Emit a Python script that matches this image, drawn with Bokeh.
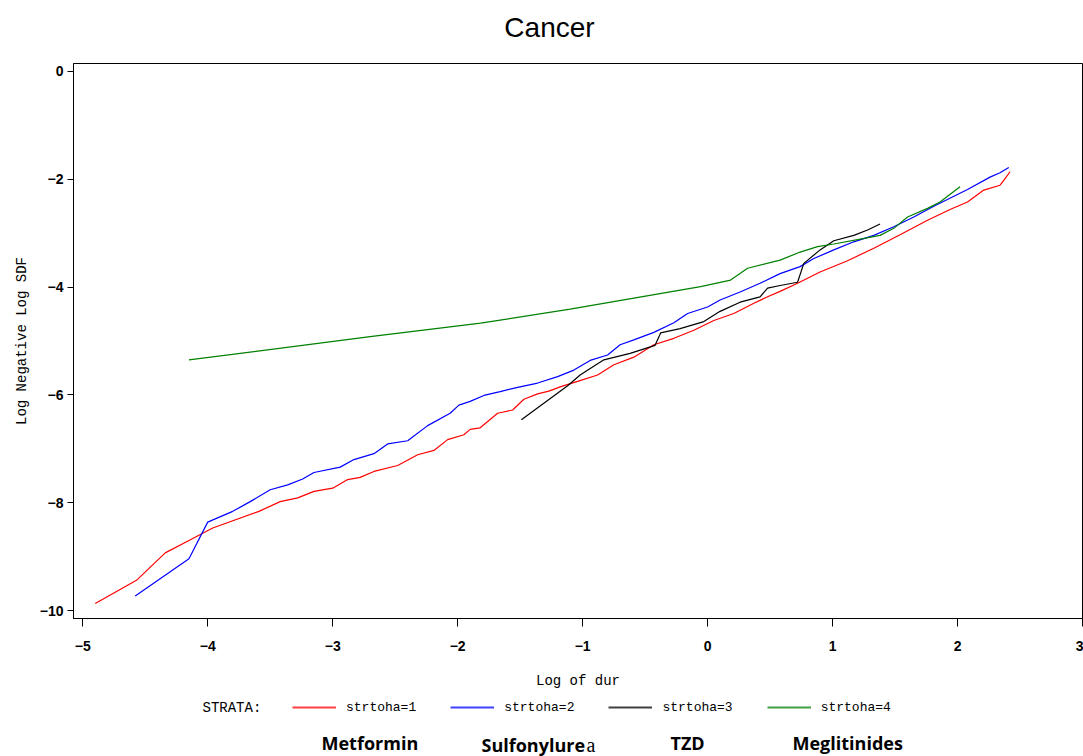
import numpy as np
from bokeh.plotting import figure
from bokeh.layouts import column
from bokeh.models import Label, Legend, LegendItem, FixedTicker, Range1d
from bokeh.embed import file_html
from bokeh.resources import INLINE

# ---------------- data ----------------
title_text = "Cancer"
x_label = "Log of dur"
y_label = "Log Negative Log SDF"
x_ticks = [-5, -4, -3, -2, -1, 0, 1, 2, 3]
y_ticks = [0, -2, -4, -6, -8, -10]
legend_title = "STRATA:"
strata_names = ["strtoha=1", "strtoha=2", "strtoha=3", "strtoha=4"]
drug_names = ["Metformin", "Sulfonylure", "TZD", "Meglitinides"]
drug_suffix = "a"

s1_x = [-4.90, -4.57, -4.34, -4.15, -3.96, -3.59, -3.42, -3.28, -3.15, -3.00, -2.88, -2.78,
        -2.67, -2.48, -2.32, -2.19, -2.08, -1.95, -1.90, -1.82, -1.68, -1.56, -1.47, -1.36,
        -1.27, -1.18, -1.04, -0.88, -0.75, -0.59, -0.43, -0.27, -0.11, 0.05, 0.21, 0.37,
        0.48, 0.58, 0.72, 0.90, 1.12, 1.33, 1.54, 1.76, 1.94, 2.08, 2.21, 2.34, 2.37, 2.42]
s1_y = [-9.87, -9.44, -8.93, -8.70, -8.47, -8.16, -7.98, -7.91, -7.79, -7.73, -7.57, -7.53,
        -7.42, -7.31, -7.11, -7.03, -6.83, -6.74, -6.64, -6.61, -6.34, -6.28, -6.08, -5.98,
        -5.93, -5.85, -5.75, -5.63, -5.44, -5.30, -5.07, -4.95, -4.80, -4.62, -4.49, -4.30,
        -4.18, -4.08, -3.93, -3.72, -3.51, -3.28, -3.03, -2.76, -2.56, -2.42, -2.20, -2.11,
        -2.02, -1.86]

s2_x = [-4.58, -4.15, -4.00, -3.80, -3.66, -3.50, -3.36, -3.24, -3.15, -2.94, -2.83, -2.67,
        -2.56, -2.40, -2.24, -2.06, -1.99, -1.90, -1.79, -1.66, -1.52, -1.36, -1.20, -1.07,
        -0.94, -0.80, -0.70, -0.59, -0.43, -0.27, -0.16, 0.00, 0.10, 0.26, 0.42, 0.58,
        0.74, 0.85, 1.01, 1.17, 1.33, 1.49, 1.65, 1.81, 2.08, 2.26, 2.34, 2.41]
s2_y = [-9.73, -9.04, -8.36, -8.16, -7.98, -7.76, -7.67, -7.56, -7.44, -7.34, -7.20, -7.09,
        -6.91, -6.85, -6.57, -6.34, -6.19, -6.12, -6.01, -5.94, -5.86, -5.78, -5.66, -5.54,
        -5.36, -5.26, -5.07, -4.98, -4.84, -4.66, -4.49, -4.37, -4.24, -4.09, -3.93, -3.75,
        -3.62, -3.47, -3.31, -3.16, -3.04, -2.88, -2.70, -2.50, -2.19, -1.96, -1.88, -1.78]

s3_x = [-1.49, -1.12, -1.02, -0.83, -0.62, -0.42, -0.376, -0.22, -0.03, 0.10, 0.26, 0.42,
        0.48, 0.58, 0.72, 0.77, 0.90, 1.01, 1.17, 1.28, 1.38]
s3_y = [-6.46, -5.83, -5.63, -5.35, -5.23, -5.08, -4.85, -4.77, -4.64, -4.45, -4.28, -4.18,
        -4.02, -3.97, -3.91, -3.56, -3.31, -3.14, -3.04, -2.94, -2.83]

s4_x = [-4.15, -2.70, -1.816, -1.10, -0.056, 0.184, 0.32, 0.58, 0.74, 0.88, 1.01, 1.20,
        1.38, 1.49, 1.60, 1.76, 1.86, 2.02]
s4_y = [-5.35, -4.92, -4.67, -4.41, -3.99, -3.87, -3.65, -3.50, -3.35, -3.25, -3.20, -3.12,
        -3.04, -2.91, -2.70, -2.54, -2.42, -2.14]

series_x = [s1_x, s2_x, s3_x, s4_x]
series_y = [s1_y, s2_y, s3_y, s4_y]
colors = ["#ff0000", "#0000ff", "#000000", "#008000"]

FRAME_L, FRAME_R = 73, 1082   # frame edges shared by the stacked figures (pixels)

# ---------------- title strip ----------------
t = figure(width=1083, height=63, output_backend="svg", toolbar_location=None,
           x_range=Range1d(FRAME_L, FRAME_R), y_range=Range1d(63, 0),
           x_axis_location=None, y_axis_location=None,
           min_border_left=0, min_border_right=0, min_border_top=0, min_border_bottom=0,
           background_fill_color="white", border_fill_color="white")
t.outline_line_color = None
t.xgrid.visible = False
t.ygrid.visible = False
t.add_layout(Label(x=549, y=27, text=title_text, text_align="center", text_baseline="middle",
                   text_font="Liberation Sans", text_font_size="28px", text_color="black"))

# ---------------- main figure ----------------
p = figure(width=1083, height=628, output_backend="svg", toolbar_location=None,
           x_range=Range1d(-5.074, 3.0), y_range=Range1d(-10.148, 0.148),
           min_border_left=FRAME_L, min_border_right=1083 - FRAME_R, min_border_top=0,
           min_border_bottom=72,
           background_fill_color="white", border_fill_color="white")
p.outline_line_color = "black"
p.outline_line_width = 1
p.xgrid.visible = False
p.ygrid.visible = False

for xs, ys, c in zip(series_x, series_y, colors):
    p.line(xs, ys, line_color=c, line_width=1.2)

p.xaxis.ticker = FixedTicker(ticks=x_ticks, minor_ticks=[])
p.yaxis.ticker = FixedTicker(ticks=y_ticks, minor_ticks=[])
for ax in (p.xaxis, p.yaxis):
    ax.axis_line_color = "black"
    ax.major_tick_line_color = "black"
    ax.major_tick_in = 0
    ax.minor_tick_in = 0
    ax.minor_tick_out = 0
    ax.major_label_text_font = "Liberation Sans"
    ax.major_label_text_font_style = "bold"
    ax.major_label_text_font_size = "14px"
    ax.major_label_text_color = "black"
    ax.axis_label_text_font = "Liberation Mono"
    ax.axis_label_text_font_style = "normal"
    ax.axis_label_text_font_size = "14px"
    ax.axis_label_text_color = "black"
p.xaxis.major_tick_out = 8
p.xaxis.major_label_standoff = 14
p.xaxis.axis_label = x_label
p.xaxis.axis_label_standoff = 19
p.yaxis.major_tick_out = 6
p.yaxis.major_label_standoff = 4
p.yaxis.axis_label = y_label
p.yaxis.axis_label_standoff = 7

# ---------------- legend / label strip below ----------------
q = figure(width=1083, height=65, output_backend="svg", toolbar_location=None,
           x_range=Range1d(FRAME_L, FRAME_R), y_range=Range1d(65, 0),
           x_axis_location=None, y_axis_location=None,
           min_border_left=0, min_border_right=0, min_border_top=0, min_border_bottom=0,
           background_fill_color="white", border_fill_color="white")
q.outline_line_color = None
q.xgrid.visible = False
q.ygrid.visible = False

legend_renderers = [q.line(x=np.array([np.nan]), y=np.array([np.nan]), line_color=c,
                           line_width=2, line_alpha=0.75) for c in colors]
legend = Legend(items=[LegendItem(label=n, renderers=[r]) for n, r in zip(strata_names, legend_renderers)],
                orientation="horizontal", location=(214, 34), margin=0, padding=5, spacing=34,
                glyph_width=44, glyph_height=20, label_standoff=10, label_height=20,
                label_text_font="Liberation Mono", label_text_font_size="13px",
                label_text_color="black",
                border_line_alpha=0, background_fill_alpha=0)
q.add_layout(legend)

q.add_layout(Label(x=202, y=16, text=legend_title, text_align="left", text_baseline="middle",
                   text_font="Liberation Mono", text_font_size="14px", text_color="black"))

drug_x = [321, 481, 670, 792]
drug_y = [51, 53, 51, 51]
for name, dx, dy in zip(drug_names, drug_x, drug_y):
    q.add_layout(Label(x=dx, y=dy, text=name, text_align="left", text_baseline="alphabetic",
                       text_font="Open Sans", text_font_style="bold", text_font_size="18px",
                       text_color="black"))
q.add_layout(Label(x=586, y=53, text=drug_suffix, text_align="left", text_baseline="alphabetic",
                   text_font="Liberation Serif", text_font_size="20px", text_color="black"))

layout = column(t, p, q, spacing=0)
open("out.html", "w").write(file_html(layout, INLINE))
